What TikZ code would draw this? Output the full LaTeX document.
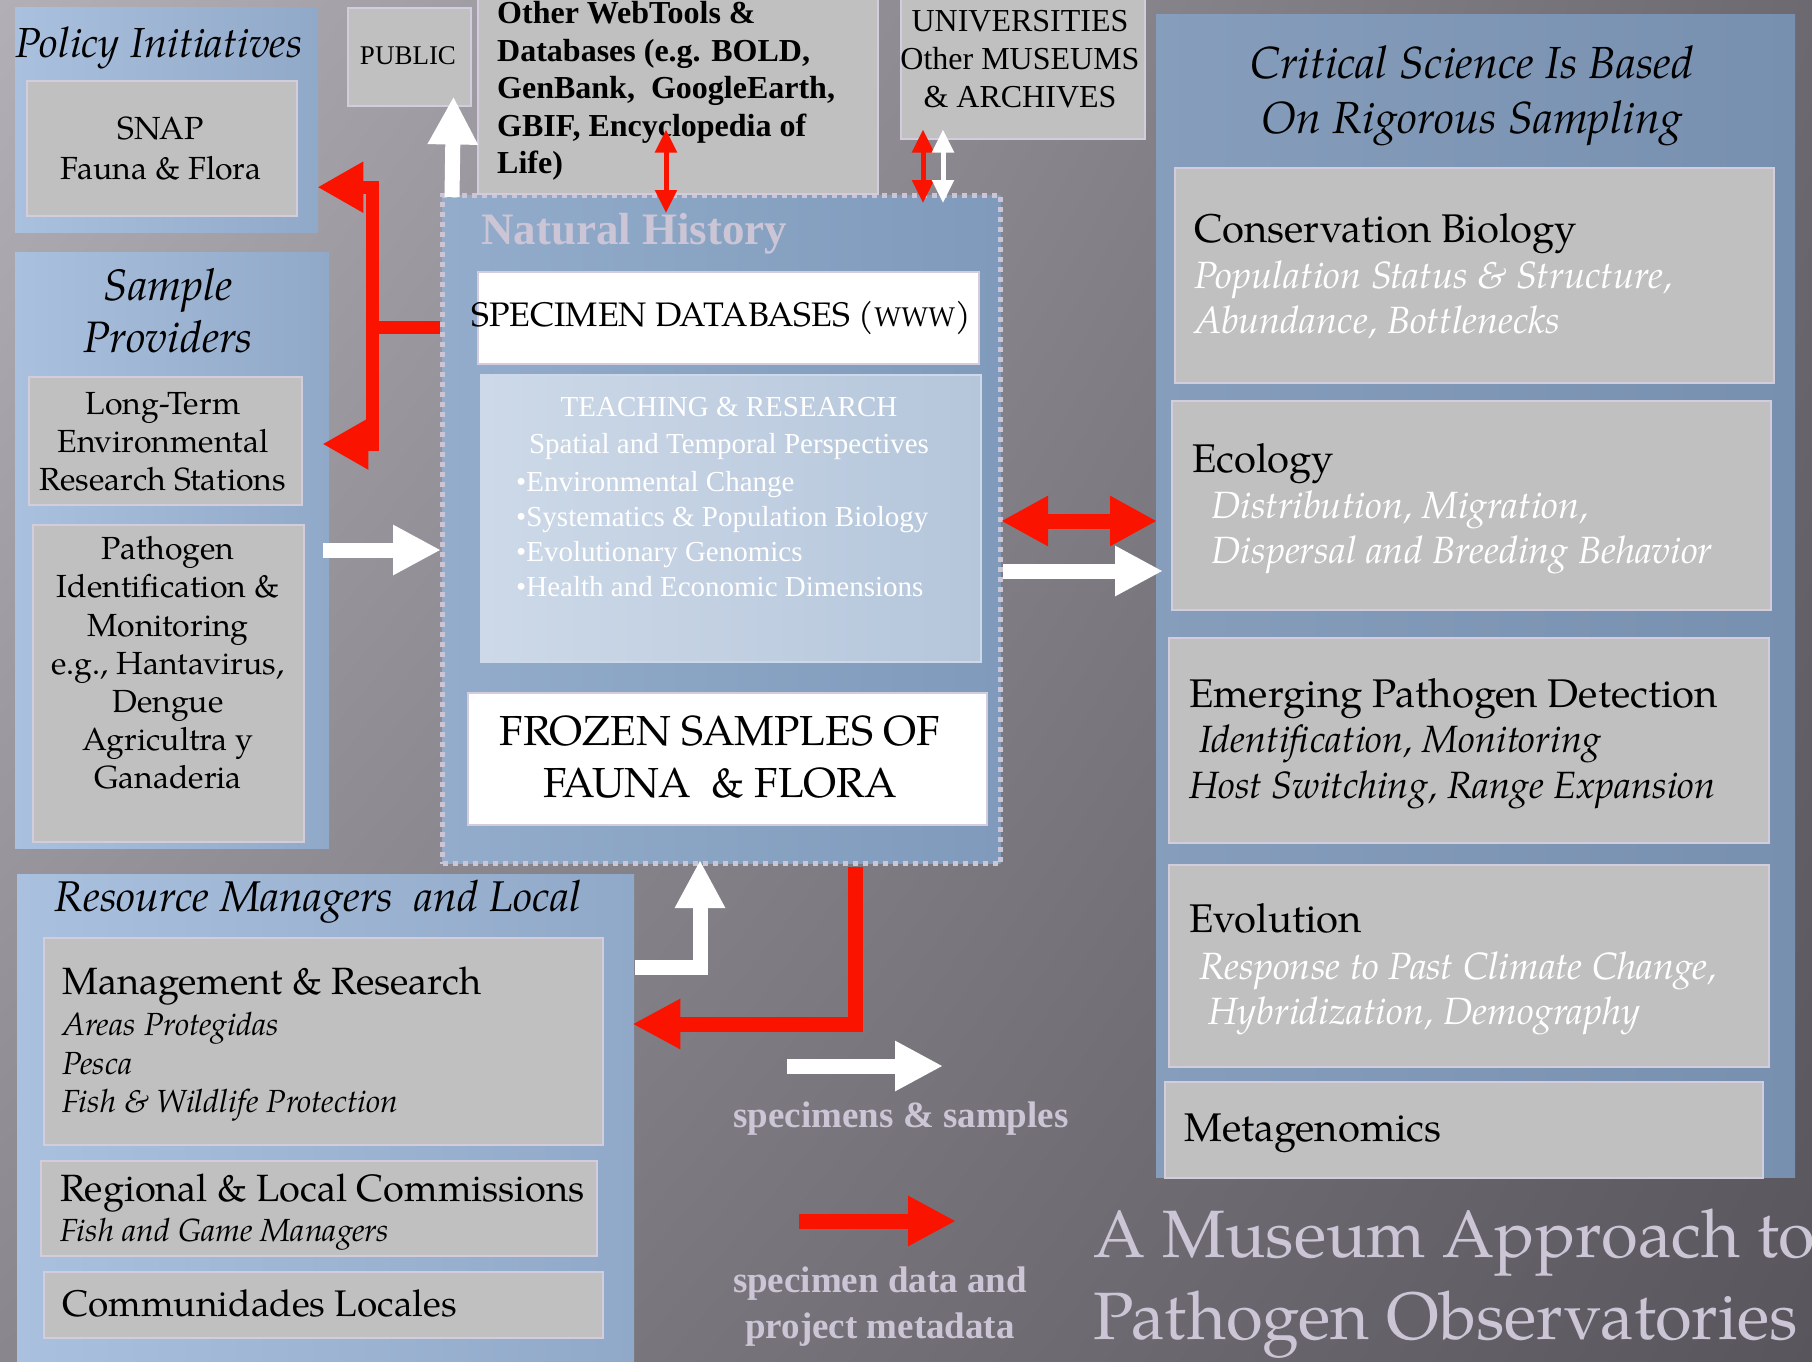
\documentclass[tikz,border=0pt]{standalone}
\usepackage{fontspec}
\setmainfont{TeX Gyre Pagella}
\newfontfamily\timesf{Liberation Serif}
\usetikzlibrary{arrows.meta,calc,shadings}

\definecolor{bgUL}{HTML}{B3AFB7}
\definecolor{bgUR}{HTML}{6C6A70}
\definecolor{bgLL}{HTML}{8A868E}
\definecolor{bgLR}{HTML}{58565C}
\definecolor{paleA}{HTML}{A9C0DE}
\definecolor{paleB}{HTML}{91A9C8}
\definecolor{deepA}{HTML}{869EBC}
\definecolor{deepB}{HTML}{7890AF}
\definecolor{nhA}{HTML}{93ACCB}
\definecolor{nhB}{HTML}{7F9ABB}
\definecolor{cardgrey}{HTML}{C0C0C0}
\definecolor{cardedge}{HTML}{D3CCDC}
\definecolor{lilac}{HTML}{CCC5D6}
\definecolor{flowred}{HTML}{FA1400}
\definecolor{teachA}{HTML}{CDD9E8}
\definecolor{teachB}{HTML}{B5C6DB}

\newcommand\fsz[2]{\fontsize{#1}{#2}\selectfont}

\tikzset{
  sz/.style 2 args={minimum width=#1pt, minimum height=#2pt},
  panel/.style={anchor=north west, inner sep=0pt, left color=paleA, right color=paleB},
  bigpanel/.style={anchor=north west, inner sep=0pt, left color=deepA, right color=deepB},
  card/.style={anchor=north west, inner sep=0pt, fill=cardgrey, draw=cardedge, line width=1.5pt},
  whitecard/.style={anchor=north west, inner sep=0pt, fill=white, draw=cardedge, line width=1.5pt},
  txt/.style={inner sep=0pt, text=black},
  wflow/.style={draw=white, line width=15pt, line join=miter, -{Triangle[length=48pt,width=47pt]}},
  rflow/.style={draw=flowred, line width=15pt, line join=miter, -{Triangle[length=48pt,width=47pt]}},
  rside/.style={draw=flowred, line width=13pt, line join=miter, -{Triangle[length=46pt,width=48pt]}},
  rboth/.style={draw=flowred, line width=15pt, {Triangle[length=47pt,width=47pt]}-{Triangle[length=47pt,width=47pt]}},
  rthin/.style={draw=flowred, line width=5pt, {Triangle[length=23pt,width=21pt]}-{Triangle[length=23pt,width=21pt]}},
  wthin/.style={draw=white, line width=5pt, {Triangle[length=23pt,width=21pt]}-{Triangle[length=23pt,width=21pt]}},
}

\begin{document}
\begin{tikzpicture}[x=1pt,y=-1pt]
\useasboundingbox (0,0) rectangle (1812,1361);

% backdrop
\shade[upper left=bgUL, upper right=bgUR, lower left=bgLL, lower right=bgLR]
  (0,0) rectangle (1812,1361);

% group panels
\node[panel, sz={303}{225}] (policy) at (15,7) {};
\node[panel, sz={314}{596}] (sampleP) at (15,252) {};
\node[panel, sz={617}{500}] (resource) at (17,874) {};
\node[bigpanel, sz={639}{1163}] (science) at (1156,14) {};

% natural history museum core
\node[anchor=north west, inner sep=0pt, sz={558}{668}, left color=nhA, right color=nhB,
      draw=lilac, line width=5pt, dash pattern=on 5pt off 5pt] (nh) at (440,193) {};
\node[anchor=west, inner sep=0pt, text=lilac, font={\timesf\bfseries\fsz{45}{50}}]
  (nhTitle) at (481,234) {Natural History};
\node[whitecard, sz={501}{92}] (specdb) at (477,271) {};
\node[anchor=north west, inner sep=0pt, sz={500}{287}, left color=teachA, right color=teachB,
      draw=teachA, line width=1.5pt] (teach) at (480,374) {};
\node[whitecard, sz={519}{132}] (frozen) at (467,692) {};

% cards outside the core
\node[card, sz={270}{135}] (snap) at (26,80) {};
\node[card, sz={123}{98}] (public) at (347,7) {};
\node[card, sz={400}{210}] (webtools) at (477,-17) {};
\node[card, sz={244}{155}] (univ) at (900,-17) {};
\node[card, sz={273}{128}] (longterm) at (28,376) {};
\node[card, sz={271}{317}] (pathogen) at (32,524) {};
\node[card, sz={559}{207}] (mgmt) at (43,937) {};
\node[card, sz={556}{95}] (regional) at (40,1160) {};
\node[card, sz={559}{66}] (comun) at (43,1271) {};
\node[card, sz={599}{215}] (conserv) at (1174,167) {};
\node[card, sz={599}{209}] (ecology) at (1171,400) {};
\node[card, sz={600}{205}] (emerging) at (1168,637) {};
\node[card, sz={600}{202}] (evolution) at (1168,864) {};
\node[card, sz={598}{96}] (metagen) at (1164,1081) {};

% left column texts
\node[txt, font={\itshape\fsz{42}{46}}] (tPolicy) at (159,48) {Policy Initiatives};
\node[txt, align=center, font={\fsz{32}{40}}] (tSnap) at (161,148) {SNAP\\Fauna \& Flora};
\node[txt, align=center, font={\itshape\fsz{44}{52}}] (tSample) at (168,311) {Sample\\Providers};
\node[txt, align=center, font={\fsz{32}{38}}] (tLong) at (163,442) {Long-Term\\Environmental\\Research Stations};
\node[txt, align=center, font={\fsz{32}{38.2}}] (tPath) at (168,663)
  {Pathogen\\Identification \&\\Monitoring\\e.g., Hantavirus,\\Dengue\\Agricultra y\\Ganaderia};

% top row texts
\node[txt, font={\timesf\fsz{27}{30}}] (tPublic) at (408,56) {PUBLIC};
\node[txt, anchor=west, align=left, font={\timesf\bfseries\fsz{32}{37.5}}] (tWeb) at (497,91)
  {Other WebTools \&\\Databases (e.g. BOLD,\\GenBank,\ \ GoogleEarth,\\GBIF, Encyclopedia of\\Life)};
\node[txt, align=center, font={\timesf\fsz{32}{38}}] (tUniv) at (1020,59)
  {UNIVERSITIES\\Other MUSEUMS\\\& ARCHIVES};

% core texts
\node[txt, font={\fsz{34}{36}}] (tSpec) at (721,318) {SPECIMEN DATABASES ({\fsz{27}{30}WWW})};
\node[txt, text=white, font={\timesf\fsz{29}{35}}] (tTeachA) at (729,407) {TEACHING \& RESEARCH};
\node[txt, text=white, font={\timesf\fsz{29}{35}}] (tTeachB) at (729,447) {Spatial and Temporal Perspectives};
\node[txt, text=white, anchor=west, align=left, font={\timesf\fsz{29}{35.2}}] (tTeachC) at (516,534)
  {•Environmental Change\\•Systematics \& Population Biology\\•Evolutionary Genomics\\•Health and Economic Dimensions};
\node[txt, align=center, font={\fsz{42}{52}}] (tFrozen) at (720,757) {FROZEN SAMPLES OF\\FAUNA\ \ \& FLORA};

% science column texts
\node[txt, align=center, font={\itshape\fsz{45}{55}}] (tCrit) at (1472,96)
  {Critical Science Is Based\\On Rigorous Sampling};
\node[txt, anchor=west, font={\fsz{40}{46}}] (tCons) at (1194,234) {Conservation Biology};
\node[txt, anchor=west, align=left, text=white, font={\itshape\fsz{38}{45}}] (tConsB) at (1194,300)
  {Population Status \& Structure,\\Abundance, Bottlenecks};
\node[txt, anchor=west, font={\fsz{40}{46}}] (tEco) at (1192,464) {Ecology};
\node[txt, anchor=west, align=left, text=white, font={\itshape\fsz{38}{45}}] (tEcoB) at (1211,532)
  {Distribution, Migration,\\Dispersal and Breeding Behavior};
\node[txt, anchor=west, font={\fsz{40}{46}}] (tEmer) at (1189,699) {Emerging Pathogen Detection};
\node[txt, anchor=west, align=left, font={\itshape\fsz{38}{46}}] (tEmerB) at (1189,767)
  {\hspace*{10pt}Identification, Monitoring\\Host Switching, Range Expansion};
\node[txt, anchor=west, font={\fsz{40}{46}}] (tEvo) at (1189,918) {Evolution};
\node[txt, anchor=west, align=left, text=white, font={\itshape\fsz{38}{45}}] (tEvoB) at (1199,993)
  {Response to Past Climate Change,\\\hspace*{9pt}Hybridization, Demography};
\node[txt, anchor=west, font={\fsz{40}{46}}] (tMeta) at (1184,1133) {Metagenomics};

% resource managers texts
\node[txt, font={\itshape\fsz{43}{48}}] (tRes) at (318,902) {Resource Managers\ \ and Local};
\node[txt, anchor=west, font={\fsz{38}{44}}] (tMgmt) at (62,986) {Management \& Research};
\node[txt, anchor=west, align=left, font={\itshape\fsz{32}{38.5}}] (tMgmtB) at (62,1067)
  {Areas Protegidas\\Pesca\\Fish \& Wildlife Protection};
\node[txt, anchor=west, font={\fsz{38}{44}}] (tReg) at (60,1193) {Regional \& Local Commissions};
\node[txt, anchor=west, font={\itshape\fsz{32}{38}}] (tRegB) at (60,1234) {Fish and Game Managers};
\node[txt, anchor=west, font={\fsz{37}{44}}] (tCom) at (62,1303) {Communidades Locales};

% legend and title
\coordinate (lgWa) at (787,1066);
\coordinate (lgWb) at (943,1066);
\coordinate (lgRa) at (799,1221);
\coordinate (lgRb) at (956,1221);
\node[txt, text=lilac, font={\timesf\bfseries\fsz{37}{46}}] (tLgW) at (901,1119) {specimens \& samples};
\node[txt, text=lilac, align=center, font={\timesf\bfseries\fsz{37}{46}}] (tLgR) at (880,1307)
  {specimen data and\\project metadata};
\node[txt, anchor=west, align=left, text=lilac, font={\fsz{67}{82}}] (tTitle) at (1093,1284)
  {A Museum Approach to\\Pathogen Observatories};

% flows of specimens (white) and data (red)
\draw[wflow] ($(nh.north west)+(12,4)$) -- ($(public.south east)+(-18,-10)$);
\draw[rthin] ($(webtools.south west)+(189,-65)$) -- ($(nh.north west)+(226,20)$);
\draw[rthin] ($(univ.south west)+(23,-10)$) -- ($(nh.north west)+(483,10)$);
\draw[wthin] ($(univ.south west)+(43,-10)$) -- ($(nh.north west)+(503,10)$);
\draw[rside] ($(nh.north west)+(0,134)$) -- ++(-68,0) |- ($(policy.east)+(-1,67.5)$);
\draw[rside] ($(nh.north west)+(-68,134)$) |- ($(sampleP.north east)+(-7,192)$);
\draw[wflow] ($(sampleP.north east)+(-6,298)$) -- ($(nh.north west)+(1,357)$);
\draw[rboth] ($(nh.north east)+(-2,328)$) -- ($(science.north west)+(1,507)$);
\draw[wflow] ($(nh.north east)+(0,378)$) -- ($(science.north west)+(7,557)$);
\draw[wflow] ($(resource.north east)+(1,93)$) -| ($(nh.south west)+(260,-6)$);
\draw[rflow] ($(nh.south west)+(415,1)$) |- ($(resource.north east)+(-2,150)$);
\draw[wflow] (lgWa) -- (lgWb);
\draw[rflow] (lgRa) -- (lgRb);
\end{tikzpicture}
\end{document}
